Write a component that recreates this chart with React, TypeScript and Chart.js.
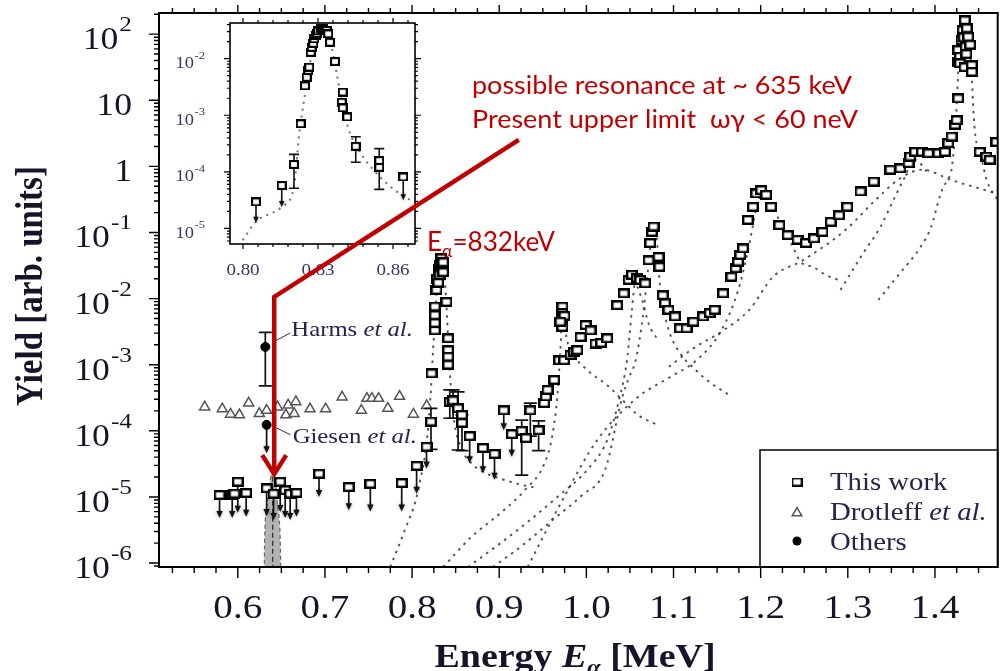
import React, { useEffect, useRef } from 'react';
import { Chart, registerables } from 'chart.js';

Chart.register(...registerables);

const PAGE_W = 1005;
const PAGE_H = 671;

// ---------------- Main panel data ----------------
// "This work" (open squares)
const thisWorkE = [
  0.5791, 0.5936, 0.5962, 0.6000, 0.6096, 0.6331, 0.6411, 0.6487, 0.6544, 0.6601,
  0.6673, 0.6932, 0.7274, 0.7521, 0.7881, 0.8052, 0.8166, 0.8217, 0.8223, 0.8262,
  0.8262, 0.8262, 0.8262, 0.8280, 0.8290, 0.8300, 0.8310, 0.8319, 0.8319, 0.8334,
  0.8340, 0.8357, 0.8357, 0.8395, 0.8414, 0.8414, 0.8414, 0.8414, 0.8433, 0.8471,
  0.8528, 0.8573, 0.8573, 0.8661, 0.8813, 0.8946, 0.9052, 0.9144, 0.9258, 0.9307,
  0.9357, 0.9452, 0.9516, 0.9535, 0.9554, 0.9631, 0.9688, 0.9745, 0.9725, 0.9725,
  0.9725, 0.9725, 0.9748, 0.9702, 0.9820, 0.9859, 0.9896, 0.9934, 0.9991, 1.0048,
  1.0105, 1.0170, 1.0239, 1.0353, 1.0429, 1.0486, 1.0523, 1.0581, 1.0618, 1.0675,
  1.0714, 1.0732, 1.0752, 1.0771, 1.0828, 1.0839, 1.0877, 1.0903, 1.0942, 1.1017,
  1.1074, 1.1150, 1.1227, 1.1341, 1.1416, 1.1473, 1.1569, 1.1664, 1.1713, 1.1740,
  1.1766, 1.1797, 1.1854, 1.1911, 1.1949, 1.2006, 1.2063, 1.2120, 1.2214, 1.2310,
  1.2424, 1.2519, 1.2613, 1.2709, 1.2804, 1.2899, 1.2994, 1.3146, 1.3298, 1.3488,
  1.3602, 1.3697, 1.3716, 1.3773, 1.3850, 1.3925, 1.4039, 1.4115, 1.4153, 1.4192,
  1.4230, 1.4249, 1.4267, 1.4267, 1.4267, 1.4286, 1.4286, 1.4306, 1.4320, 1.4330,
  1.4343, 1.4340, 1.4354, 1.4360, 1.4366, 1.4381, 1.4404, 1.4423, 1.4423, 1.4514,
  1.4591, 1.4629, 1.4705,
];
const thisWorkY = [
  1.07e-5, 1.07e-5, 1.12e-5, 1.70e-5, 1.15e-5, 1.35e-5, 1.12e-5, 1.70e-5, 1.26e-5, 1.12e-5,
  1.15e-5, 2.24e-5, 1.41e-5, 1.58e-5, 1.62e-5, 2.95e-5, 5.75e-5, 1.38e-4, 7.41e-4, 3.31e-3,
  4.27e-3, 5.62e-3, 7.59e-3, 1.35e-2, 2.00e-2, 1.74e-2, 2.82e-2, 2.29e-2, 3.24e-2, 4.07e-2,
  3.16e-2, 3.55e-2, 2.51e-2, 8.91e-3, 2.51e-3, 1.66e-3, 1.32e-3, 1.00e-3, 2.75e-4, 2.88e-4,
  2.19e-4, 1.74e-4, 1.32e-4, 8.32e-5, 5.50e-5, 4.47e-5, 2.04e-4, 8.91e-5, 1.00e-4, 7.76e-5,
  2.04e-4, 1.02e-4, 2.63e-4, 3.31e-4, 4.17e-4, 5.89e-4, 1.17e-3, 1.17e-3, 7.59e-3, 6.03e-3,
  4.79e-3, 3.72e-3, 5.50e-3, 4.47e-3, 1.41e-3, 1.58e-3, 1.66e-3, 2.63e-3, 3.98e-3, 3.31e-3,
  2.09e-3, 2.14e-3, 2.51e-3, 7.94e-3, 1.20e-2, 1.91e-2, 2.29e-2, 2.04e-2, 1.91e-2, 1.70e-2,
  3.80e-2, 6.92e-2, 1.02e-1, 1.23e-1, 4.27e-2, 3.02e-2, 1.12e-2, 8.51e-3, 6.76e-3, 5.37e-3,
  3.55e-3, 3.55e-3, 4.47e-3, 5.37e-3, 6.03e-3, 6.76e-3, 1.20e-2, 2.14e-2, 2.88e-2, 3.63e-2,
  4.57e-2, 5.75e-2, 1.55e-1, 2.45e-1, 3.89e-1, 4.37e-1, 3.72e-1, 2.45e-1, 1.29e-1, 9.12e-2,
  7.76e-2, 6.92e-2, 8.13e-2, 1.02e-1, 1.45e-1, 1.82e-1, 2.45e-1, 4.17e-1, 5.89e-1, 8.91e-1,
  9.33e-1, 1.12, 1.41, 1.66, 1.66, 1.58, 1.58, 1.66, 2.24, 2.82,
  4.27, 5.01, 10.7, 38.0, 57.5, 45.7, 36.3, 81.3, 115, 89.1,
  162, 31.6, 64.6, 50.1, 123, 91.2, 69.2, 33.9, 26.9, 1.66,
  1.41, 1.26, 2.34,
];
// "This work" error bars
const thisWorkErrE = [0.8217, 0.8433, 0.8471, 0.8528, 0.8573, 0.9258, 0.9357, 0.9452];
const thisWorkErrLo = [5.25e-5, 1.55e-4, 1.55e-4, 5.13e-5, 5.01e-5, 2.14e-5, 8.32e-5, 5.01e-5];
const thisWorkErrHi = [2.19e-4, 4.17e-4, 4.17e-4, 3.89e-4, 1.74e-4, 1.45e-4, 2.63e-4, 1.41e-4];
// "This work" upper limits (arrows)
const limitE = [0.5791, 0.5936, 0.6000, 0.6096, 0.6331, 0.6411, 0.6487, 0.6544, 0.6601, 0.6673, 0.6932,
  0.7274, 0.7521, 0.7881, 0.8052, 0.8166, 0.8661, 0.8813, 0.8946, 0.9052, 0.9144];
const limitFrom = [1.07e-5, 1.07e-5, 1.70e-5, 1.15e-5, 1.35e-5, 1.12e-5, 1.70e-5, 1.26e-5, 1.12e-5, 1.15e-5, 2.24e-5,
  1.41e-5, 1.58e-5, 1.62e-5, 2.95e-5, 5.75e-5, 8.32e-5, 5.50e-5, 4.47e-5, 2.04e-4, 8.91e-5];
const limitTo = [4.79e-6, 4.79e-6, 5.75e-6, 5.01e-6, 5.13e-6, 4.47e-6, 5.89e-6, 4.79e-6, 4.47e-6, 5.01e-6, 1.0e-5,
  6.31e-6, 6.03e-6, 6.03e-6, 1.12e-5, 2.69e-5, 3.24e-5, 2.29e-5, 1.82e-5, 1.02e-4, 4.07e-5];

// Drotleff et al. (open triangles)
const drotleffE = [0.562, 0.5822, 0.5917, 0.6019, 0.6125, 0.6247, 0.6331, 0.6456, 0.6552, 0.6578, 0.6666, 0.6647,
  0.6829, 0.7008, 0.7197, 0.7418, 0.7482, 0.7539, 0.7616, 0.7722, 0.7856, 0.8015, 0.8167];
const drotleffY = [2.29e-4, 2.14e-4, 1.78e-4, 1.74e-4, 2.63e-4, 1.82e-4, 2.04e-4, 2.29e-4, 1.74e-4, 2.45e-4, 2.75e-4, 1.82e-4,
  2.14e-4, 2.14e-4, 3.24e-4, 2.04e-4, 3.09e-4, 3.09e-4, 3.09e-4, 2.19e-4, 3.31e-4, 1.78e-4, 2.40e-4];

// Others (filled circles): Harms et al., Giesen et al.
const othersNames = ['Harms', 'Giesen'];
const othersE = [0.6316, 0.6331];
const othersY = [1.86e-3, 1.23e-4];
const othersErrHi = [3.09e-3, null];
const othersErrLo = [4.79e-4, null];
const othersLimitTo = [null, 4.57e-5];

// Possible resonance at ~635 keV (grey band)
const resonance635E = [0.6303, 0.6308, 0.6339, 0.6373, 0.6400, 0.6430, 0.6453, 0.6487, 0.6495];
const resonance635Y = [6e-7, 2.24e-6, 8.1e-6, 1.8e-5, 2.6e-5, 1.8e-5, 8.1e-6, 2.24e-6, 6e-7];

// Resonance fit curves (dotted)
const fit832E = [0.7749, 0.7844, 0.7938, 0.8034, 0.8095, 0.8163, 0.8209, 0.8243, 0.8277, 0.8311, 0.8335, 0.8357,
  0.8391, 0.8425, 0.8471, 0.8551, 0.8665, 0.8813, 0.8984, 0.9212, 0.9440];
const fit832Y = [8.71e-7, 1.78e-6, 3.72e-6, 8.13e-6, 1.82e-5, 6.03e-5, 2.95e-4, 1.86e-3, 9.55e-3, 3.55e-2, 4.17e-2, 3.55e-2,
  9.55e-3, 1.17e-3, 1.86e-4, 6.03e-5, 3.39e-5, 2.40e-5, 1.95e-5, 1.58e-5, 1.35e-5];
const fit970E = [0.8357, 0.8676, 0.9018, 0.9292, 0.9520, 0.9611, 0.9668, 0.9702, 0.9725, 0.9740, 0.9759, 0.9839,
  1.0010, 1.0239, 1.0410, 1.0581, 1.0809];
const fit970Y = [8.71e-7, 2.45e-6, 5.75e-6, 1.26e-5, 3.24e-5, 8.71e-5, 3.47e-4, 1.66e-3, 6.31e-3, 7.24e-3, 3.39e-3, 1.55e-3,
  8.32e-4, 4.90e-4, 2.95e-4, 1.78e-4, 1.23e-4];
const fit1050E = [0.8642, 0.8984, 0.9326, 0.9668, 1.0010, 1.0239, 1.0375, 1.0466, 1.0523, 1.0558, 1.0638, 1.0720, 1.0809];
const fit1050Y = [8.71e-7, 1.86e-6, 4.17e-6, 1.0e-5, 2.57e-5, 7.24e-5, 2.95e-4, 1.17e-3, 6.76e-3, 1.66e-2, 9.55e-3, 3.98e-3, 2.51e-3];
const fit1080E = [0.8927, 0.9269, 0.9611, 0.9953, 1.0215, 1.0410, 1.0490, 1.0558, 1.0604, 1.0661, 1.0718, 1.0763,
  1.0809, 1.0843, 1.0889, 1.0946, 1.1071, 1.1231, 1.1379, 1.1641];
const fit1080Y = [8.71e-7, 1.86e-6, 4.47e-6, 1.07e-5, 2.57e-5, 3.16e-4, 6.46e-4, 1.07e-3, 2.14e-3, 7.41e-3, 3.80e-2, 1.26e-1,
  7.76e-2, 1.62e-2, 6.76e-3, 3.31e-3, 1.51e-3, 8.91e-4, 5.89e-4, 3.47e-4];
const fit1200E = [0.9326, 0.9725, 1.0124, 1.0581, 1.0957, 1.1265, 1.1550, 1.1743, 1.1857, 1.1948, 1.2017, 1.2119,
  1.2233, 1.2370, 1.2461, 1.2598, 1.2746, 1.2894];
const fit1200Y = [8.71e-7, 8.91e-6, 7.24e-5, 3.16e-4, 6.46e-4, 1.17e-3, 3.31e-3, 1.35e-2, 5.50e-2, 2.19e-1, 4.07e-1, 3.09e-1,
  1.29e-1, 6.03e-2, 3.55e-2, 3.02e-2, 2.29e-2, 1.91e-2];
const fitBroadE = [1.0946, 1.1231, 1.1573, 1.1870, 1.2143, 1.2485, 1.2976, 1.3317, 1.3602, 1.3853, 1.4195, 1.4651, 1.4720];
const fitBroadY = [9.33e-4, 1.78e-3, 3.31e-3, 6.76e-3, 2.14e-2, 3.80e-2, 1.10e-1, 3.09e-1, 6.61e-1, 8.91e-1, 6.17e-1, 4.07e-1, 3.80e-1];
const fit1370E = [1.2916, 1.3178, 1.3372, 1.3509, 1.3635, 1.3771, 1.3909];
const fit1370Y = [1.35e-2, 4.90e-2, 1.20e-1, 2.82e-1, 6.17e-1, 1.26, 8.32e-1];
const fit1430E = [1.3350, 1.3601, 1.3829, 1.3955, 1.4069, 1.4137, 1.4195, 1.4240, 1.4275, 1.4320, 1.4389, 1.4423,
  1.4435, 1.4457, 1.4537, 1.4594, 1.4720];
const fit1430Y = [9.55e-3, 2.45e-2, 5.89e-2, 1.20e-1, 3.98e-1, 6.17e-1, 9.77e-1, 5.01, 40.7, 151, 81.3, 22.4,
  10.0, 3.55, 1.26, 6.17e-1, 3.09e-1];

// Main axes ticks
const xTickValues = [0.6, 0.7, 0.8, 0.9, 1.0, 1.1, 1.2, 1.3, 1.4];
const xTickLabels = ['0.6', '0.7', '0.8', '0.9', '1.0', '1.1', '1.2', '1.3', '1.4'];
const yTickValues = [1e-6, 1e-5, 1e-4, 1e-3, 1e-2, 1e-1, 1, 10, 100];
const yTickLabels = [['10', '-6'], ['10', '-5'], ['10', '-4'], ['10', '-3'], ['10', '-2'], ['10', '-1'], ['1', ''], ['10', ''], ['10', '2']];

// ---------------- Inset data (832 keV resonance) ----------------
const insetE = [0.8052, 0.8155, 0.8204, 0.8231, 0.8248, 0.8255, 0.8261, 0.8265, 0.8271, 0.8275, 0.8281, 0.8285,
  0.8291, 0.8295, 0.8301, 0.8310, 0.8315, 0.8320, 0.8328, 0.8335, 0.8341, 0.8348, 0.8368, 0.8399, 0.8395, 0.8399,
  0.8417, 0.8451, 0.8545, 0.8545, 0.8641];
const insetY = [2.95e-5, 5.75e-5, 1.35e-4, 7.08e-4, 3.31e-3, 4.68e-3, 6.17e-3, 7.08e-3, 1.29e-2, 1.58e-2, 1.86e-2, 2.24e-2,
  2.57e-2, 2.82e-2, 3.09e-2, 3.39e-2, 3.31e-2, 3.39e-2, 3.09e-2, 3.16e-2, 2.75e-2, 1.95e-2, 8.91e-3, 2.57e-3, 1.70e-3, 1.35e-3,
  9.33e-4, 2.82e-4, 1.58e-4, 1.20e-4, 8.13e-5];
const insetErrE = [0.8204, 0.8451, 0.8545];
const insetErrLo = [5.13e-5, 1.48e-4, 4.90e-5];
const insetErrHi = [2.04e-4, 4.17e-4, 2.57e-4];
const insetLimE = [0.8052, 0.8155, 0.8641];
const insetLimFrom = [2.95e-5, 5.75e-5, 8.13e-5];
const insetLimTo = [1.26e-5, 2.40e-5, 3.16e-5];
const insetFitE = [0.7955, 0.7981, 0.8052, 0.8155, 0.8204, 0.8225, 0.8244, 0.8265, 0.8295, 0.8321, 0.8355, 0.8375,
  0.8399, 0.8428, 0.8481, 0.8548, 0.8615, 0.8681];
const insetFitY = [4.47e-6, 5.01e-6, 1.32e-5, 2.40e-5, 5.50e-5, 4.79e-4, 1.82e-3, 7.08e-3, 2.75e-2, 3.55e-2, 1.58e-2, 5.50e-3,
  1.41e-3, 4.79e-4, 1.82e-4, 8.13e-5, 4.47e-5, 2.95e-5];
const insetXTickValues = [0.80, 0.83, 0.86];
const insetXTickLabels = ['0.80', '0.83', '0.86'];
const insetYTickValues = [1e-5, 1e-4, 1e-3, 1e-2];
const insetYTickLabels = [['10', '-5'], ['10', '-4'], ['10', '-3'], ['10', '-2']];

// Red annotation arrow path (data coordinates of the main panel)
const arrowPathE = [0.9224, 0.6418, 0.6418];
const arrowPathY = [2.51, 1.06e-2, 2.14e-5];

// ---------------- drawing helpers ----------------
const SERIF = '"Liberation Serif", "Times New Roman", serif';
const RED_FONT = 'Lato, "Noto Sans", sans-serif';
const RED = '#c00000';
const INK = '#15152a';
const INSET_INK = '#3a3468';
const STRETCH = 1.15;

function textWidth(ctx: any, s: string, font: string) {
  ctx.save();
  ctx.font = font;
  const w = ctx.measureText(s).width;
  ctx.restore();
  return w;
}
function drawText(ctx: any, s: string, x: number, y: number, font: string, color: string, align: any = 'left', sx = STRETCH) {
  ctx.save();
  ctx.font = font;
  ctx.fillStyle = color;
  ctx.textAlign = align;
  ctx.textBaseline = 'alphabetic';
  ctx.translate(x, y);
  ctx.scale(sx, 1);
  ctx.fillText(s, 0, 0);
  ctx.restore();
}
type Seg = { t: string; f: string; dy?: number };
function richWidth(ctx: any, segs: Seg[], sx: number) {
  return segs.reduce((w, s) => w + textWidth(ctx, s.t, s.f) * sx, 0);
}
function drawRich(ctx: any, segs: Seg[], x: number, y: number, color: string, sx: number) {
  let cx = x;
  for (const s of segs) {
    drawText(ctx, s.t, cx, y + (s.dy || 0), s.f, color, 'left', sx);
    cx += textWidth(ctx, s.t, s.f) * sx;
  }
}
function drawPower(ctx: any, base: string, sup: string, right: number, y: number, baseFont: string, supFont: string,
  baseDy: number, supDy: number, color: string, gap: number) {
  const ws = sup ? textWidth(ctx, sup, supFont) * STRETCH : 0;
  const wb = textWidth(ctx, base, baseFont) * STRETCH;
  const x0 = right - ws - (sup ? gap : 0) - wb;
  drawText(ctx, base, x0, y + baseDy, baseFont, color);
  if (sup) drawText(ctx, sup, x0 + wb + gap, y + supDy, supFont, color);
}
function drawErrorBar(ctx: any, x: number, yTop: number, yBot: number, cap: number) {
  ctx.beginPath();
  ctx.moveTo(x, yTop); ctx.lineTo(x, yBot);
  ctx.moveTo(x - cap, yTop); ctx.lineTo(x + cap, yTop);
  ctx.moveTo(x - cap, yBot); ctx.lineTo(x + cap, yBot);
  ctx.stroke();
}
function drawLimitArrow(ctx: any, x: number, yFrom: number, yTo: number, head: number) {
  ctx.beginPath();
  ctx.moveTo(x, yFrom); ctx.lineTo(x, yTo - head + 1);
  ctx.stroke();
  ctx.save();
  ctx.shadowColor = 'rgba(0,0,0,0.5)';
  ctx.shadowBlur = 3;
  ctx.beginPath();
  ctx.moveTo(x - head * 0.45, yTo - head);
  ctx.lineTo(x + head * 0.45, yTo - head);
  ctx.lineTo(x, yTo);
  ctx.closePath();
  ctx.fill();
  ctx.restore();
}
function makeSquare(w: number, h: number, lw: number) {
  const c = document.createElement('canvas');
  c.width = w; c.height = h;
  const g = c.getContext('2d') as CanvasRenderingContext2D;
  g.fillStyle = '#fff';
  g.fillRect(0, 0, w, h);
  g.strokeStyle = '#000';
  g.lineWidth = lw;
  g.strokeRect(lw / 2, lw / 2, w - lw, h - lw);
  return c;
}
function triangle(ctx: any, cx: number, cy: number, r: number) {
  ctx.beginPath();
  ctx.moveTo(cx, cy - r);
  ctx.lineTo(cx + r * 0.866, cy + r * 0.5);
  ctx.lineTo(cx - r * 0.866, cy + r * 0.5);
  ctx.closePath();
}
const pts = (xs: number[], ys: number[]) => xs.map((x, i) => ({ x, y: ys[i] }));

function dotted(xs: number[], ys: number[]) {
  return {
    data: pts(xs, ys), showLine: true, pointRadius: 0, fill: false,
    borderColor: 'rgba(50,50,50,0.85)', borderWidth: 1.9, borderDash: [2.5, 5],
    tension: 0.4, cubicInterpolationMode: 'monotone',
  };
}

export default function App() {
  const mainRef = useRef<HTMLCanvasElement>(null);
  const insetRef = useRef<HTMLCanvasElement>(null);

  useEffect(() => {
    const square = makeSquare(12, 10, 2.4);
    const squareSmall = makeSquare(10, 9, 2.1);
    const legendSquare = makeSquare(11, 9, 1.8);

    const mainDecor = {
      id: 'mainDecor',
      beforeDatasetDraw(chart: any, args: any) {
        const ds = chart.data.datasets[args.index];
        const ctx = chart.ctx;
        const xs = chart.scales.x, ys = chart.scales.y;
        if (ds.role === 'thisWork') {
          ctx.save();
          ctx.strokeStyle = '#111'; ctx.fillStyle = '#111'; ctx.lineWidth = 1.7;
          thisWorkErrE.forEach((e, i) => drawErrorBar(ctx, xs.getPixelForValue(e), ys.getPixelForValue(thisWorkErrHi[i]),
            ys.getPixelForValue(thisWorkErrLo[i]), 6.5));
          limitE.forEach((e, i) => drawLimitArrow(ctx, xs.getPixelForValue(e), ys.getPixelForValue(limitFrom[i]),
            ys.getPixelForValue(limitTo[i]), 7));
          ctx.restore();
        }
        if (ds.role === 'others') {
          ctx.save();
          ctx.strokeStyle = '#111'; ctx.fillStyle = '#111'; ctx.lineWidth = 1.7;
          othersE.forEach((e, i) => {
            const px = xs.getPixelForValue(e);
            const hi = othersErrHi[i], lo = othersErrLo[i], lim = othersLimitTo[i];
            if (hi != null && lo != null) drawErrorBar(ctx, px, ys.getPixelForValue(hi), ys.getPixelForValue(lo), 6.5);
            if (lim != null) drawLimitArrow(ctx, px, ys.getPixelForValue(othersY[i]), ys.getPixelForValue(lim), 7);
          });
          ctx.restore();
        }
      },
      afterDraw(chart: any) {
        const ctx = chart.ctx;
        const a = chart.chartArea;
        const xs = chart.scales.x, ys = chart.scales.y;
        ctx.save();
        // ticks
        ctx.strokeStyle = '#000';
        ctx.lineWidth = 1.4;
        ctx.beginPath();
        for (let i = 0; ; i++) {
          const v = 0.525 + i * 0.025;
          if (v > xs.max) break;
          const px = xs.getPixelForValue(v);
          const major = Math.abs(v * 10 - Math.round(v * 10)) < 1e-6;
          ctx.moveTo(px, a.bottom); ctx.lineTo(px, a.bottom + (major ? 11 : 6));
          ctx.moveTo(px, a.top); ctx.lineTo(px, a.top - (major ? 8 : 5));
        }
        for (let k = -7; k <= 2; k++) {
          for (let m = 1; m <= 9; m++) {
            const v = m * Math.pow(10, k);
            if (v < ys.min || v > ys.max) continue;
            const py = ys.getPixelForValue(v);
            const len = m === 1 ? 10 : 5;
            ctx.moveTo(a.left - len, py); ctx.lineTo(a.left, py);
          }
        }
        ctx.stroke();
        ctx.lineWidth = 2;
        ctx.strokeRect(a.left, a.top, a.right - a.left, a.bottom - a.top);

        // tick labels
        xTickValues.forEach((v, i) => drawText(ctx, xTickLabels[i], xs.getPixelForValue(v), a.bottom + 51, `34px ${SERIF}`, INK, 'center'));
        yTickValues.forEach((v, i) => {
          const [b, s] = yTickLabels[i];
          drawPower(ctx, b, s, a.left - 27, ys.getPixelForValue(v), `31px ${SERIF}`, `22px ${SERIF}`, 15, -3, INK, 1);
        });

        // axis titles
        const xt: Seg[] = [
          { t: 'Energy ', f: `bold 33px ${SERIF}` },
          { t: 'E', f: `italic bold 33px ${SERIF}` },
          { t: 'α', f: `italic bold 21px ${SERIF}`, dy: 7 },
          { t: ' [MeV]', f: `bold 33px ${SERIF}` },
        ];
        const xtw = richWidth(ctx, xt, STRETCH);
        drawRich(ctx, xt, 575 - xtw / 2, 667, INK, STRETCH);
        ctx.save();
        ctx.translate(42, 286);
        ctx.scale(STRETCH, 1);
        ctx.rotate(-Math.PI / 2);
        ctx.font = `bold 33px ${SERIF}`;
        ctx.fillStyle = INK;
        ctx.textAlign = 'center';
        ctx.textBaseline = 'alphabetic';
        ctx.fillText('Yield [arb. units]', 0, 0);
        ctx.restore();

        // labels for other measurements
        const labColor = '#24244e';
        othersE.forEach((e, i) => {
          const cx = xs.getPixelForValue(e), cy = ys.getPixelForValue(othersY[i]);
          ctx.strokeStyle = '#333'; ctx.lineWidth = 1;
          ctx.beginPath();
          if (i === 0) { ctx.moveTo(cx + 10, cy - 6); ctx.lineTo(cx + 25, cy - 14); }
          else { ctx.moveTo(cx + 10, cy + 3); ctx.lineTo(cx + 24, cy + 10); }
          ctx.stroke();
          const segs: Seg[] = [
            { t: othersNames[i] + ' ', f: `21.5px ${SERIF}` },
            { t: 'et al.', f: `italic 21.5px ${SERIF}` },
          ];
          drawRich(ctx, segs, cx + 26, i === 0 ? cy - 11 : cy + 18, labColor, STRETCH);
        });

        // legend
        const lx = 760, ly = 450;
        ctx.strokeStyle = '#000'; ctx.lineWidth = 1.5;
        ctx.strokeRect(lx, ly, a.right - lx, a.bottom - ly);
        ctx.drawImage(legendSquare, 797 - 5.5, 482 - 4.5);
        ctx.fillStyle = '#fff'; ctx.strokeStyle = '#555'; ctx.lineWidth = 1.5;
        triangle(ctx, 797, 513, 5.5); ctx.fill(); ctx.stroke();
        ctx.fillStyle = '#000';
        ctx.beginPath(); ctx.arc(797, 541, 4.5, 0, Math.PI * 2); ctx.fill();
        const lf = `25px ${SERIF}`;
        drawText(ctx, 'This work', 830, 490, lf, labColor);
        drawRich(ctx, [{ t: 'Drotleff ', f: lf }, { t: 'et al.', f: `italic 25px ${SERIF}` }], 830, 520, labColor, STRETCH);
        drawText(ctx, 'Others', 830, 550, lf, labColor);
        ctx.restore();
      },
    };

    const mainChart = new Chart(mainRef.current as HTMLCanvasElement, {
      type: 'scatter',
      data: {
        datasets: [
          { role: 'others', data: pts(othersE, othersY), pointStyle: 'circle', pointRadius: 4.5,
            pointBackgroundColor: '#000', pointBorderColor: '#000', pointBorderWidth: 1 } as any,
          { role: 'thisWork', data: pts(thisWorkE, thisWorkY), pointStyle: square, pointRadius: 5 } as any,
          { data: pts(drotleffE, drotleffY), pointStyle: 'triangle', pointRadius: 5.8,
            pointBackgroundColor: '#fff', pointBorderColor: '#555', pointBorderWidth: 1.5 } as any,
          dotted(fit832E, fit832Y) as any,
          dotted(fit970E, fit970Y) as any,
          dotted(fit1050E, fit1050Y) as any,
          dotted(fit1080E, fit1080Y) as any,
          dotted(fit1200E, fit1200Y) as any,
          dotted(fitBroadE, fitBroadY) as any,
          dotted(fit1370E, fit1370Y) as any,
          dotted(fit1430E, fit1430Y) as any,
          { data: [{ x: resonance635E[4], y: resonance635Y[0] }, { x: resonance635E[4], y: resonance635Y[4] }],
            showLine: true, pointRadius: 0, borderColor: '#333', borderWidth: 1.3, borderDash: [5, 3], tension: 0 } as any,
          { data: pts(resonance635E, resonance635Y), showLine: true, pointRadius: 0, fill: 'start',
            backgroundColor: '#b3b3b3', borderColor: '#666', borderWidth: 1.2, borderDash: [4, 3],
            tension: 0.3, cubicInterpolationMode: 'monotone' } as any,
        ],
      },
      options: {
        responsive: false,
        animation: false,
        events: [],
        layout: { padding: { left: 159, top: 13, right: 2, bottom: 104 } },
        plugins: { legend: { display: false }, tooltip: { enabled: false } },
        scales: {
          x: { type: 'linear', min: 0.5096, max: 1.472, display: false, bounds: 'data' },
          y: { type: 'logarithmic', min: 8.71e-7, max: 209, display: false, bounds: 'data' },
        },
      } as any,
      plugins: [mainDecor as any],
    });

    const insetDecor = {
      id: 'insetDecor',
      beforeDraw(chart: any) {
        const ctx = chart.ctx; const a = chart.chartArea;
        ctx.save();
        ctx.fillStyle = '#fff';
        ctx.fillRect(a.left, a.top, a.right - a.left, a.bottom - a.top);
        ctx.restore();
      },
      beforeDatasetDraw(chart: any, args: any) {
        const ds = chart.data.datasets[args.index];
        if (ds.role !== 'insetWork') return;
        const ctx = chart.ctx; const xs = chart.scales.x, ys = chart.scales.y;
        ctx.save();
        ctx.strokeStyle = '#111'; ctx.fillStyle = '#111'; ctx.lineWidth = 1.6;
        insetErrE.forEach((e, i) => drawErrorBar(ctx, xs.getPixelForValue(e), ys.getPixelForValue(insetErrHi[i]),
          ys.getPixelForValue(insetErrLo[i]), 5));
        insetLimE.forEach((e, i) => drawLimitArrow(ctx, xs.getPixelForValue(e), ys.getPixelForValue(insetLimFrom[i]),
          ys.getPixelForValue(insetLimTo[i]), 6));
        ctx.restore();
      },
      afterDraw(chart: any) {
        const ctx = chart.ctx; const a = chart.chartArea;
        const xs = chart.scales.x, ys = chart.scales.y;
        ctx.save();
        ctx.strokeStyle = '#000'; ctx.lineWidth = 1.2;
        ctx.beginPath();
        for (let i = 0; i <= 11; i++) {
          const v = 0.8 + i * 0.006;
          const px = xs.getPixelForValue(v);
          const len = i % 5 === 0 ? 5 : 3;
          ctx.moveTo(px, a.bottom); ctx.lineTo(px, a.bottom + len);
          ctx.moveTo(px, a.top); ctx.lineTo(px, a.top - len);
        }
        for (let k = -6; k <= -2; k++) {
          for (let m = 1; m <= 9; m++) {
            const v = m * Math.pow(10, k);
            if (v < ys.min || v > ys.max) continue;
            const py = ys.getPixelForValue(v);
            const len = m === 1 ? 6 : 3;
            ctx.moveTo(a.left - len, py); ctx.lineTo(a.left, py);
            ctx.moveTo(a.right, py); ctx.lineTo(a.right + len, py);
          }
        }
        ctx.stroke();
        ctx.lineWidth = 1.6;
        ctx.strokeRect(a.left, a.top, a.right - a.left, a.bottom - a.top);
        insetXTickValues.forEach((v, i) => drawText(ctx, insetXTickLabels[i], xs.getPixelForValue(v), a.bottom + 30.5,
          `16.5px ${SERIF}`, INSET_INK, 'center'));
        insetYTickValues.forEach((v, i) => {
          const [b, s] = insetYTickLabels[i];
          drawPower(ctx, b, s, a.left - 25, ys.getPixelForValue(v), `16px ${SERIF}`, `11px ${SERIF}`, 9.5, 0, INSET_INK, 0.5);
        });

        // red annotation (drawn on top of everything, anchored to the main panel's data coordinates)
        const mx = mainChart.scales.x, my = mainChart.scales.y;
        const p = arrowPathE.map((e, i) => [mx.getPixelForValue(e), my.getPixelForValue(arrowPathY[i])]);
        ctx.strokeStyle = RED; ctx.lineWidth = 4.5; ctx.lineJoin = 'miter'; ctx.lineCap = 'butt';
        ctx.beginPath();
        ctx.moveTo(p[0][0], p[0][1]);
        ctx.lineTo(p[1][0], p[1][1]);
        ctx.lineTo(p[2][0], p[2][1] - 3);
        ctx.stroke();
        ctx.beginPath();
        ctx.moveTo(p[2][0] - 12, p[2][1] - 20);
        ctx.lineTo(p[2][0], p[2][1] - 1);
        ctx.lineTo(p[2][0] + 12, p[2][1] - 20);
        ctx.stroke();

        const l1 = 'possible resonance at ~ 635 keV';
        const l2 = 'Present upper limit  ωγ < 60 neV';
        const rf = `24.5px ${RED_FONT}`;
        drawText(ctx, l1, 472, 94, rf, RED, 'left', 380 / textWidth(ctx, l1, rf));
        drawText(ctx, l2, 472, 128, rf, RED, 'left', 386 / textWidth(ctx, l2, rf));
        const ea: Seg[] = [
          { t: 'E', f: `27px ${RED_FONT}` },
          { t: 'α', f: `18px ${RED_FONT}`, dy: 6 },
          { t: '=832keV', f: `27px ${RED_FONT}` },
        ];
        drawRich(ctx, ea, 427, 251, RED, 128 / richWidth(ctx, ea, 1));
        ctx.restore();
      },
    };

    const insetChart = new Chart(insetRef.current as HTMLCanvasElement, {
      type: 'scatter',
      data: {
        datasets: [
          { role: 'insetWork', data: pts(insetE, insetY), pointStyle: squareSmall, pointRadius: 5 } as any,
          { data: pts(insetFitE, insetFitY), showLine: true, pointRadius: 0, fill: false,
            borderColor: 'rgba(90,90,90,0.85)', borderWidth: 2, borderDash: [2, 5],
            tension: 0.4, cubicInterpolationMode: 'monotone' } as any,
        ],
      },
      options: {
        responsive: false,
        animation: false,
        events: [],
        layout: { padding: { left: 230, top: 23, right: 590, bottom: 427 } },
        plugins: { legend: { display: false }, tooltip: { enabled: false } },
        scales: {
          x: { type: 'linear', min: 0.7948, max: 0.8688, display: false, bounds: 'data' },
          y: { type: 'logarithmic', min: 5.31e-6, max: 4.27e-2, display: false, bounds: 'data' },
        },
      } as any,
      plugins: [insetDecor as any],
    });

    // make sure locally installed fonts are used once available
    let alive = true;
    const fonts = [
      `31px "Liberation Serif"`, `bold 33px "Liberation Serif"`, `italic 25px "Liberation Serif"`,
      `italic bold 33px "Liberation Serif"`, `22px Lato`,
    ];
    const fs: any = (document as any).fonts;
    if (fs && fs.load) {
      Promise.all(fonts.map((f) => fs.load(f, 'Energy 10 αωγ').catch(() => null))).then(() => {
        if (!alive) return;
        mainChart.update('none');
        insetChart.update('none');
      });
    }

    return () => {
      alive = false;
      insetChart.destroy();
      mainChart.destroy();
    };
  }, []);

  const canvasStyle: React.CSSProperties = { position: 'absolute', left: 0, top: 0, width: PAGE_W, height: PAGE_H };
  return (
    <div style={{ position: 'fixed', left: 0, top: 0, width: PAGE_W, height: PAGE_H, background: '#fff', overflow: 'hidden' }}>
      <div style={{ position: 'absolute', left: -9999, top: 0, visibility: 'hidden' }}>
        <span style={{ fontFamily: '"Liberation Serif"' }}>Energy 10</span>
        <span style={{ fontFamily: '"Liberation Serif"', fontWeight: 'bold' }}>Energy 10</span>
        <span style={{ fontFamily: '"Liberation Serif"', fontStyle: 'italic' }}>et al.</span>
        <span style={{ fontFamily: 'Lato' }}>possible</span>
      </div>
      <canvas ref={mainRef} width={PAGE_W} height={PAGE_H} style={canvasStyle} />
      <canvas ref={insetRef} width={PAGE_W} height={PAGE_H} style={{ ...canvasStyle, pointerEvents: 'none' }} />
    </div>
  );
}
